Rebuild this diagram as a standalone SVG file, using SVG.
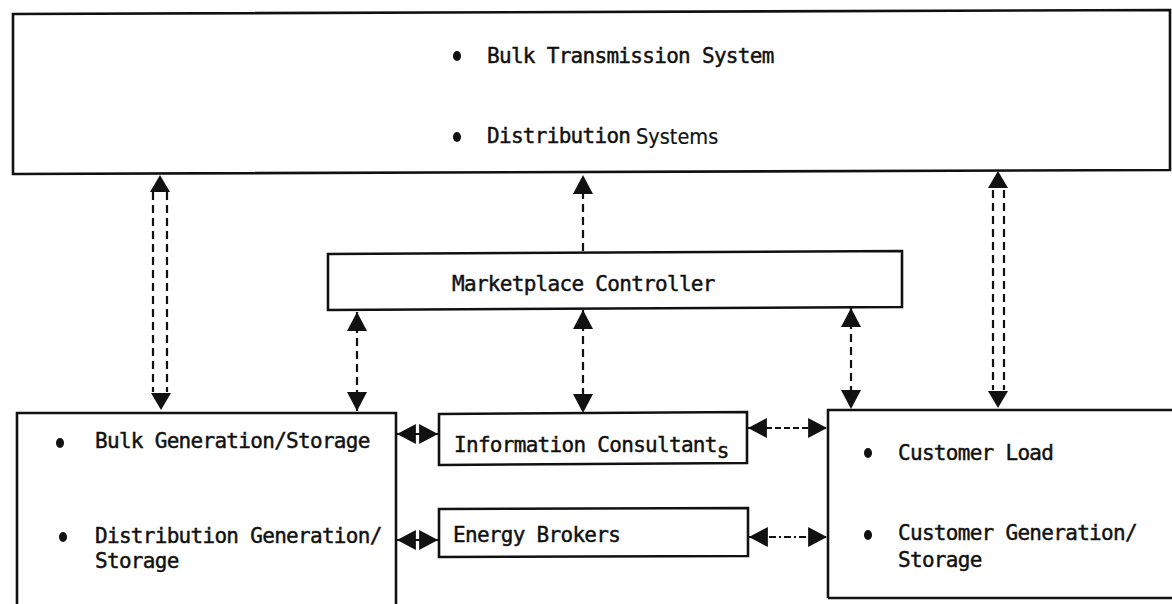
<svg xmlns="http://www.w3.org/2000/svg" xmlns:xlink="http://www.w3.org/1999/xlink" width="1172" height="604" viewBox="0 0 1172 604">
  <style>
    .box { fill: #fff; stroke: #111; stroke-width: 2.6; stroke-linejoin: miter; }
    .edge { fill: none; stroke: #111; stroke-width: 2.6; }
    .lbl { font-family: "DejaVu Sans Mono", "Liberation Mono", monospace; font-size: 21px; letter-spacing: -0.7px; fill: #111; stroke: #111; stroke-width: 0.45px; }
    .alt { font-family: "DejaVu Sans Condensed", "DejaVu Sans", "Liberation Sans", sans-serif; font-size: 21.5px; letter-spacing: 0px; stroke-width: 0.2px; }
    .dot { fill: #111; }
    .dash { fill: none; stroke: #111; stroke-width: 2.2; stroke-dasharray: 8 5; }
    .dash-s { fill: none; stroke: #111; stroke-width: 2.2; stroke-dasharray: 6 3; }
    .dash-d { fill: none; stroke: #111; stroke-width: 2.2; stroke-dasharray: 2 3 7 3; }
    .solid { fill: none; stroke: #111; stroke-width: 2.2; }
    .head { fill: #111; }
  </style>
  <defs>
    <!-- arrowhead with its tip at the marker's reference point -->
    <marker id="arr" markerUnits="userSpaceOnUse" markerWidth="20" markerHeight="20" viewBox="0 0 18 18" refX="17" refY="9" orient="auto-start-reverse">
      <path d="M0,0 L17,9 L0,18 Z" fill="#111"/>
    </marker>
    <!-- free-standing head, tip at origin pointing up -->
    <path id="tri" d="M0,0 L10,17 L-10,17 Z"/>
  </defs>

  <!-- power system (top) -->
  <g id="power-system">
    <polygon class="box" points="13,14 1170,10 1170,170 13,174"/>
    <ellipse class="dot" cx="457" cy="56" rx="4" ry="5"/>
    <text class="lbl" x="487" y="63">Bulk Transmission System</text>
    <ellipse class="dot" cx="457" cy="137" rx="4" ry="5"/>
    <text class="lbl" x="487" y="143">Distribution</text>
    <text class="lbl alt" x="636" y="144">Systems</text>
  </g>

  <!-- marketplace controller -->
  <g id="marketplace-controller">
    <polygon class="box" points="328,254 902,251 902,307 328,310"/>
    <text class="lbl" x="452" y="291">Marketplace Controller</text>
  </g>

  <!-- bulk / distribution generation -->
  <g id="generation">
    <path class="edge" d="M17,606 V413 H396 V606"/>
    <ellipse class="dot" cx="60" cy="443" rx="4" ry="5"/>
    <text class="lbl" x="95" y="448">Bulk Generation/Storage</text>
    <ellipse class="dot" cx="63" cy="537" rx="4" ry="5"/>
    <text class="lbl" x="95" y="543">Distribution Generation/</text>
    <text class="lbl" x="95" y="568">Storage</text>
  </g>

  <!-- information consultants -->
  <g id="information-consultants">
    <polygon class="box" points="439,414 747,412 747,463 439,465"/>
    <text class="lbl" x="454" y="452">Information Consultant<tspan dy="6">s</tspan></text>
  </g>

  <!-- energy brokers -->
  <g id="energy-brokers">
    <polygon class="box" points="439,509 748,508 748,556 439,557"/>
    <text class="lbl" x="453" y="542">Energy Brokers</text>
  </g>

  <!-- customers -->
  <g id="customers">
    <path class="edge" d="M828,598 V410 H1174 M828,598 H1174"/>
    <ellipse class="dot" cx="868" cy="453" rx="4" ry="5"/>
    <text class="lbl" x="898" y="460">Customer Load</text>
    <ellipse class="dot" cx="868" cy="535" rx="4" ry="5"/>
    <text class="lbl" x="898" y="540">Customer Generation/</text>
    <text class="lbl" x="898" y="567">Storage</text>
  </g>

  <g id="connectors">
    <!-- generation <-> power system (paired lines) -->
    <line class="dash" x1="153" y1="192" x2="153" y2="392"/>
    <line class="dash" x1="167" y1="192" x2="167" y2="392"/>
    <use xlink:href="#tri" class="head" transform="translate(160,175)"/>
    <use xlink:href="#tri" class="head" transform="translate(161,410) rotate(180)"/>

    <!-- customers <-> power system (paired lines) -->
    <line class="dash" x1="993" y1="190" x2="993" y2="390"/>
    <line class="dash" x1="1004" y1="190" x2="1004" y2="390"/>
    <use xlink:href="#tri" class="head" transform="translate(998,171)"/>
    <use xlink:href="#tri" class="head" transform="translate(998,408) rotate(180)"/>

    <!-- marketplace controller -> power system -->
    <line class="dash" x1="583" y1="251" x2="583" y2="175" marker-end="url(#arr)"/>

    <!-- marketplace controller <-> lower nodes -->
    <line class="dash" x1="357" y1="312" x2="357" y2="411" marker-start="url(#arr)" marker-end="url(#arr)"/>
    <line class="dash" x1="583" y1="310" x2="583" y2="413" marker-start="url(#arr)" marker-end="url(#arr)"/>
    <line class="dash" x1="851" y1="308" x2="851" y2="409" marker-start="url(#arr)" marker-end="url(#arr)"/>

    <!-- generation <-> consultants / brokers -->
    <line class="solid" x1="397" y1="434" x2="438" y2="434" marker-start="url(#arr)" marker-end="url(#arr)"/>
    <line class="solid" x1="397" y1="540" x2="438" y2="540" marker-start="url(#arr)" marker-end="url(#arr)"/>

    <!-- consultants / brokers <-> customers -->
    <line class="dash-s" x1="748" y1="428" x2="827" y2="428" marker-start="url(#arr)" marker-end="url(#arr)"/>
    <line class="dash-d" x1="749" y1="537" x2="827" y2="537" marker-start="url(#arr)" marker-end="url(#arr)"/>
  </g>
</svg>
